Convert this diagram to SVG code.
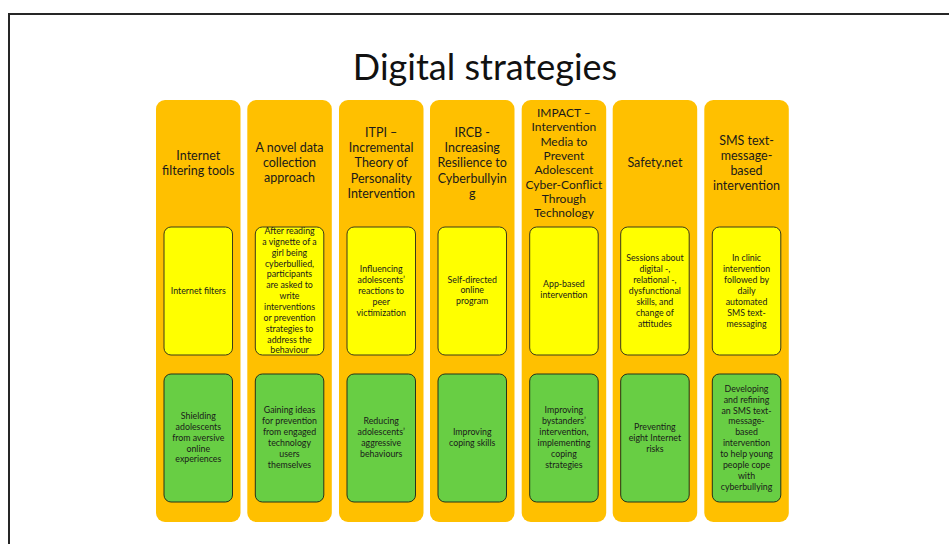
<svg xmlns="http://www.w3.org/2000/svg" width="949" height="544" viewBox="0 0 949 544">
<style>
.frame{fill:none;stroke:#262626;stroke-width:2}
.col{fill:#FFC000}
.yel{fill:#FFFF00;stroke:#3a3a1a;stroke-width:1}
.grn{fill:#68CE44;stroke:#23331a;stroke-width:1}
.title{font-family:"Lato","Open Sans",sans-serif;font-size:36px;fill:#111;text-anchor:middle}
.hd{font-family:"Lato","Open Sans",sans-serif;font-size:12.5px;fill:#1a1a1a;text-anchor:middle}
.hd5{font-family:"Lato","Open Sans",sans-serif;font-size:12px;fill:#1a1a1a;text-anchor:middle}
.bx{font-family:"Lato","Open Sans",sans-serif;font-size:8.8px;fill:#1a1a1a;text-anchor:middle}
</style>
<rect width="949" height="544" fill="#fff"/>
<rect class="frame" x="9" y="14" width="960" height="560"/>
<text class="title" x="485" y="80">Digital strategies</text>

<g id="col1">
<rect class="col" x="156" y="100" width="84.5" height="422" rx="9"/>
<text class="hd" x="198.3"><tspan x="198.3" y="160">Internet</tspan><tspan x="198.3" y="175">filtering tools</tspan></text>
<rect class="yel" x="164" y="227" width="68.5" height="128" rx="7"/>
<text class="bx"><tspan x="198.3" y="294">Internet filters</tspan></text>
<rect class="grn" x="164" y="374" width="68.5" height="128" rx="7"/>
<text class="bx"><tspan x="198.3" y="419">Shielding</tspan><tspan x="198.3" y="429.8">adolescents</tspan><tspan x="198.3" y="440.7">from aversive</tspan><tspan x="198.3" y="451.5">online</tspan><tspan x="198.3" y="462.3">experiences</tspan></text>
</g>

<g id="col2">
<rect class="col" x="247.3" y="100" width="84.5" height="422" rx="9"/>
<text class="hd"><tspan x="289.5" y="152">A novel data</tspan><tspan x="289.5" y="167">collection</tspan><tspan x="289.5" y="182">approach</tspan></text>
<rect class="yel" x="255.3" y="227" width="68.5" height="128" rx="7"/>
<text class="bx"><tspan x="289.5" y="234">After reading</tspan><tspan x="289.5" y="244.9">a vignette of a</tspan><tspan x="289.5" y="255.7">girl being</tspan><tspan x="289.5" y="266.6">cyberbullied,</tspan><tspan x="289.5" y="277.4">participants</tspan><tspan x="289.5" y="288.3">are asked to</tspan><tspan x="289.5" y="299.1">write</tspan><tspan x="289.5" y="310">interventions</tspan><tspan x="289.5" y="320.8">or prevention</tspan><tspan x="289.5" y="331.7">strategies to</tspan><tspan x="289.5" y="342.5">address the</tspan><tspan x="289.5" y="353.3">behaviour</tspan></text>
<rect class="grn" x="255.3" y="374" width="68.5" height="128" rx="7"/>
<text class="bx"><tspan x="289.5" y="413.3">Gaining ideas</tspan><tspan x="289.5" y="424.2">for prevention</tspan><tspan x="289.5" y="435">from engaged</tspan><tspan x="289.5" y="445.9">technology</tspan><tspan x="289.5" y="456.8">users</tspan><tspan x="289.5" y="467.6">themselves</tspan></text>
</g>

<g id="col3">
<rect class="col" x="339" y="100" width="84.5" height="422" rx="9"/>
<text class="hd"><tspan x="381.2" y="137">ITPI –</tspan><tspan x="381.2" y="152.2">Incremental</tspan><tspan x="381.2" y="167.4">Theory of</tspan><tspan x="381.2" y="182.6">Personality</tspan><tspan x="381.2" y="197.8">Intervention</tspan></text>
<rect class="yel" x="347" y="227" width="68.5" height="128" rx="7"/>
<text class="bx"><tspan x="381.2" y="272.3">Influencing</tspan><tspan x="381.2" y="283.1">adolescents’</tspan><tspan x="381.2" y="294">reactions to</tspan><tspan x="381.2" y="304.8">peer</tspan><tspan x="381.2" y="315.6">victimization</tspan></text>
<rect class="grn" x="347" y="374" width="68.5" height="128" rx="7"/>
<text class="bx"><tspan x="381.2" y="424.3">Reducing</tspan><tspan x="381.2" y="435.1">adolescents’</tspan><tspan x="381.2" y="445.9">aggressive</tspan><tspan x="381.2" y="456.7">behaviours</tspan></text>
</g>

<g id="col4">
<rect class="col" x="430" y="100" width="84.5" height="422" rx="9"/>
<text class="hd"><tspan x="472.2" y="137">IRCB -</tspan><tspan x="472.2" y="152.2">Increasing</tspan><tspan x="472.2" y="167.4">Resilience to</tspan><tspan x="472.2" y="182.6">Cyberbullyin</tspan><tspan x="472.2" y="197.8">g</tspan></text>
<rect class="yel" x="438" y="227" width="68.5" height="128" rx="7"/>
<text class="bx"><tspan x="472.2" y="282.6">Self-directed</tspan><tspan x="472.2" y="293.4">online</tspan><tspan x="472.2" y="304.2">program</tspan></text>
<rect class="grn" x="438" y="374" width="68.5" height="128" rx="7"/>
<text class="bx"><tspan x="472.2" y="435">Improving</tspan><tspan x="472.2" y="446">coping skills</tspan></text>
</g>

<g id="col5">
<rect class="col" x="521.7" y="100" width="84.5" height="422" rx="9"/>
<text class="hd5"><tspan x="563.9" y="117">IMPACT –</tspan><tspan x="563.9" y="131.3">Intervention</tspan><tspan x="563.9" y="145.6">Media to</tspan><tspan x="563.9" y="159.9">Prevent</tspan><tspan x="563.9" y="174.2">Adolescent</tspan><tspan x="563.9" y="188.5">Cyber-Conflict</tspan><tspan x="563.9" y="202.8">Through</tspan><tspan x="563.9" y="217.1">Technology</tspan></text>
<rect class="yel" x="529.7" y="227" width="68.5" height="128" rx="7"/>
<text class="bx"><tspan x="563.9" y="287.3">App-based</tspan><tspan x="563.9" y="298.3">intervention</tspan></text>
<rect class="grn" x="529.7" y="374" width="68.5" height="128" rx="7"/>
<text class="bx"><tspan x="563.9" y="413.3">Improving</tspan><tspan x="563.9" y="424.2">bystanders’</tspan><tspan x="563.9" y="435">intervention,</tspan><tspan x="563.9" y="445.9">implementing</tspan><tspan x="563.9" y="456.8">coping</tspan><tspan x="563.9" y="467.6">strategies</tspan></text>
</g>

<g id="col6">
<rect class="col" x="612.7" y="100" width="84.5" height="422" rx="9"/>
<text class="hd"><tspan x="654.9" y="167">Safety.net</tspan></text>
<rect class="yel" x="620.7" y="227" width="68.5" height="128" rx="7"/>
<text class="bx"><tspan x="654.9" y="260.6">Sessions about</tspan><tspan x="654.9" y="271.6">digital -,</tspan><tspan x="654.9" y="282.6">relational -,</tspan><tspan x="654.9" y="293.6">dysfunctional</tspan><tspan x="654.9" y="304.6">skills, and</tspan><tspan x="654.9" y="315.6">change of</tspan><tspan x="654.9" y="326.6">attitudes</tspan></text>
<rect class="grn" x="620.7" y="374" width="68.5" height="128" rx="7"/>
<text class="bx"><tspan x="654.9" y="430">Preventing</tspan><tspan x="654.9" y="440.8">eight Internet</tspan><tspan x="654.9" y="451.6">risks</tspan></text>
</g>

<g id="col7">
<rect class="col" x="704.3" y="100" width="84.5" height="422" rx="9"/>
<text class="hd"><tspan x="746.5" y="145">SMS text-</tspan><tspan x="746.5" y="160">message-</tspan><tspan x="746.5" y="175">based</tspan><tspan x="746.5" y="190">intervention</tspan></text>
<rect class="yel" x="712.3" y="227" width="68.5" height="128" rx="7"/>
<text class="bx"><tspan x="746.5" y="260.6">In clinic</tspan><tspan x="746.5" y="271.6">intervention</tspan><tspan x="746.5" y="282.6">followed by</tspan><tspan x="746.5" y="293.6">daily</tspan><tspan x="746.5" y="304.6">automated</tspan><tspan x="746.5" y="315.6">SMS text-</tspan><tspan x="746.5" y="326.6">messaging</tspan></text>
<rect class="grn" x="712.3" y="374" width="68.5" height="128" rx="7"/>
<text class="bx"><tspan x="746.5" y="391.6">Developing</tspan><tspan x="746.5" y="402.5">and refining</tspan><tspan x="746.5" y="413.5">an SMS text-</tspan><tspan x="746.5" y="424.4">message-</tspan><tspan x="746.5" y="435.3">based</tspan><tspan x="746.5" y="446.2">intervention</tspan><tspan x="746.5" y="457.2">to help young</tspan><tspan x="746.5" y="468.1">people cope</tspan><tspan x="746.5" y="479">with</tspan><tspan x="746.5" y="489.9">cyberbullying</tspan></text>
</g>
</svg>
